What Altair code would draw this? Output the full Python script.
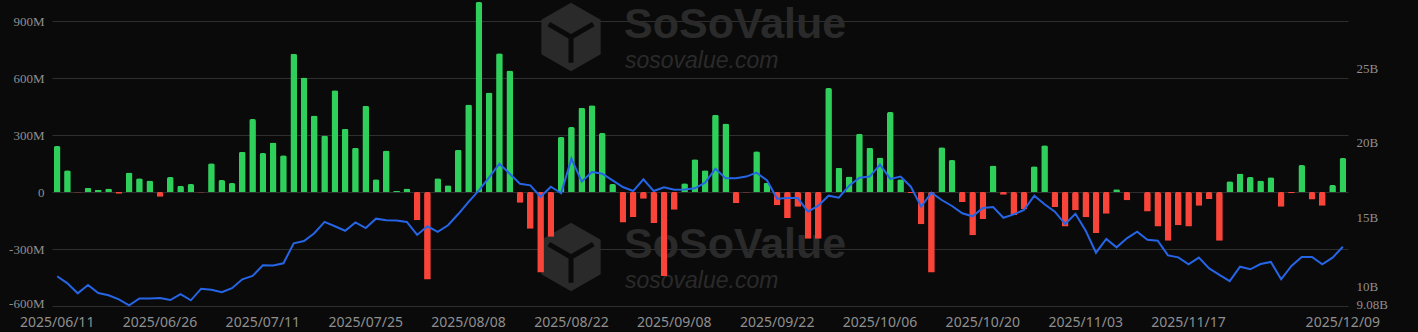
import altair as alt
import pandas as pd

# ---- data ----
dates = [
    "2025/06/11", "2025/06/12", "2025/06/13", "2025/06/16", "2025/06/17", "2025/06/18", "2025/06/20",
    "2025/06/23", "2025/06/24", "2025/06/25", "2025/06/26", "2025/06/27", "2025/06/30",
    "2025/07/01", "2025/07/02", "2025/07/03", "2025/07/07", "2025/07/08", "2025/07/09", "2025/07/10",
    "2025/07/11", "2025/07/14", "2025/07/15", "2025/07/16", "2025/07/17", "2025/07/18", "2025/07/21",
    "2025/07/22", "2025/07/23", "2025/07/24", "2025/07/25", "2025/07/28", "2025/07/29", "2025/07/30",
    "2025/07/31", "2025/08/01", "2025/08/04", "2025/08/05", "2025/08/06", "2025/08/07", "2025/08/08",
    "2025/08/11", "2025/08/12", "2025/08/13", "2025/08/14", "2025/08/15", "2025/08/18", "2025/08/19",
    "2025/08/20", "2025/08/21", "2025/08/22", "2025/08/25", "2025/08/26", "2025/08/27", "2025/08/28",
    "2025/08/29", "2025/09/02", "2025/09/03", "2025/09/04", "2025/09/05", "2025/09/08", "2025/09/09",
    "2025/09/10", "2025/09/11", "2025/09/12", "2025/09/15", "2025/09/16", "2025/09/17", "2025/09/18",
    "2025/09/19", "2025/09/22", "2025/09/23", "2025/09/24", "2025/09/25", "2025/09/26", "2025/09/29",
    "2025/09/30", "2025/10/01", "2025/10/02", "2025/10/03", "2025/10/06", "2025/10/07", "2025/10/08",
    "2025/10/09", "2025/10/10", "2025/10/13", "2025/10/14", "2025/10/15", "2025/10/16", "2025/10/17",
    "2025/10/20", "2025/10/21", "2025/10/22", "2025/10/23", "2025/10/24", "2025/10/27", "2025/10/28",
    "2025/10/29", "2025/10/30", "2025/10/31", "2025/11/03", "2025/11/04", "2025/11/05", "2025/11/06",
    "2025/11/07", "2025/11/10", "2025/11/11", "2025/11/12", "2025/11/13", "2025/11/14", "2025/11/17",
    "2025/11/18", "2025/11/19", "2025/11/20", "2025/11/21", "2025/11/24", "2025/11/25", "2025/11/26",
    "2025/11/28", "2025/12/01", "2025/12/02", "2025/12/03", "2025/12/04", "2025/12/05", "2025/12/08",
    "2025/12/09",
]

# daily net inflow, millions USD
net_inflow = [
    242, 114, -3, 23, 12, 19, -9, 102, 72, 61, -25, 79, 33, 42, -3, 151,
    63, 47, 212, 384, 205, 260, 193, 728, 602, 403, 298, 535, 333, 233, 454, 67,
    219, 7, 18, -149, -460, 72, 35, 223, 461, 1000, 524, 730, 640, -56, -193, -424,
    -235, 289, 342, 444, 456, 310, 42, -160, -132, -35, -163, -442, -93, 46, 172,
    114, 407, 361, -58, -3, 214, 49, -70, -137, -77, -246, -246, 547, 128, 82, 307,
    233, 182, 421, 67, -5, -170, -424, 235, 168, -53, -228, -142, 140, -14, -121, -89,
    135, 246, -79, -181, -96, -133, -216, -114, 14, -44, 0, -103, -181, -256, -175, -181,
    -72, -37, -256, 56, 98, 79, 61, 77, -77, -7, 142, -39, -72, 37, 179,
]

# total net assets, billions USD
total_assets = [
    11.07, 10.60, 9.93, 10.49, 9.95, 9.80, 9.53, 9.12, 9.59, 9.59, 9.61, 9.48, 9.88, 9.46, 10.24, 10.17,
    10.00, 10.27, 10.87, 11.09, 11.81, 11.79, 11.94, 13.28, 13.43, 13.95, 14.71, 14.42, 14.12, 14.68, 14.30, 14.93,
    14.82, 14.80, 14.71, 13.84, 14.42, 14.04, 14.49, 15.24, 16.05, 16.83, 17.70, 18.61, 17.94, 17.27, 17.16, 16.40,
    17.07, 16.63, 18.95, 17.41, 18.06, 17.94, 17.50, 17.05, 16.78, 17.57, 16.78, 17.03, 16.87, 16.89, 16.96,
    17.34, 18.28, 17.63, 17.63, 17.75, 18.01, 17.50, 16.27, 16.31, 16.31, 15.40, 15.80, 16.47, 16.33, 17.14, 17.67,
    17.75, 18.55, 17.59, 17.75, 17.07, 15.73, 16.67, 16.18, 15.78, 15.29, 15.09, 15.64, 15.71, 14.99, 15.22, 15.51,
    16.47, 15.89, 15.40, 14.57, 15.26, 14.12, 12.65, 13.57, 13.01, 13.61, 14.06, 13.52, 13.45, 12.47, 12.34, 11.87,
    12.32, 11.60, 11.16, 10.75, 11.71, 11.54, 11.89, 12.03, 10.87, 11.76, 12.36, 12.36, 11.87, 12.32, 13.05,
]

x_label_dates = [
    "2025/06/11", "2025/06/26", "2025/07/11", "2025/07/25", "2025/08/08", "2025/08/22", "2025/09/08",
    "2025/09/22", "2025/10/06", "2025/10/20", "2025/11/03", "2025/11/17", "2025/12/09",
]
left_ticks = [-600, -300, 0, 300, 600, 900]
right_ticks = [9.08, 10, 15, 20, 25]
right_domain = [9.08, 28.17]

watermark_big = ["SoSoValue", "SoSoValue"]
watermark_small = ["sosovalue.com", "sosovalue.com"]

df = pd.DataFrame({"date": dates, "flow": net_inflow, "assets": total_assets})

BG = "#0a0a0a"
GREEN = "#2fcf5b"
RED = "#f9443a"
BLUE = "#2565e6"
GRID = "#2f2f2f"
LABEL = "#8f8f8f"
WM = "#2a2a2a"

x_axis = alt.Axis(
    title=None, values=x_label_dates, labelAngle=0, labelOverlap=False,
    domain=False, ticks=False, grid=False, labelColor=LABEL, labelFont="Noto Sans",
    labelFontSize=14, labelPadding=9,
)
x_scale = alt.Scale(paddingInner=0.35, paddingOuter=0.175)

base = alt.Chart(df)

# watermark decorations
hexagon = "M0,-1L0.866,-0.5L0.866,0.5L0,1L-0.866,0.5L-0.866,-0.5Z"
cube_lines = "M0,0L0,0.75M0,0L-0.65,-0.375M0,0L0.65,-0.375"
wm_df = pd.DataFrame({"big": watermark_big, "small": watermark_small, "row": [0, 1]})
wm_base = alt.Chart(wm_df)
wm_layers = []
for row, yoff in [(0, 0), (1, 220)]:
    sub = wm_base.transform_filter(alt.datum.row == row)
    wm_layers.append(
        sub.mark_point(shape=hexagon, filled=True, color=WM, opacity=1, size=4700).encode(
            x=alt.value(519), y=alt.value(16 + yoff)
        )
    )
    wm_layers.append(
        sub.mark_point(shape=cube_lines, filled=False, color=BG, strokeWidth=5, opacity=1, size=4700).encode(
            x=alt.value(519), y=alt.value(16 + yoff)
        )
    )
    wm_layers.append(
        sub.mark_text(align="left", baseline="alphabetic", font="Liberation Sans", fontWeight="bold",
                      fontSize=43, color=WM).encode(
            text="big:N", x=alt.value(572), y=alt.value(17 + yoff)
        )
    )
    wm_layers.append(
        sub.mark_text(align="left", baseline="alphabetic", font="Liberation Sans", fontStyle="italic",
                      fontSize=23, color=WM).encode(
            text="small:N", x=alt.value(573), y=alt.value(47 + yoff)
        )
    )

bars = base.mark_bar(cornerRadiusEnd=2, clip=False).encode(
    x=alt.X("date:O", sort=None, scale=x_scale, axis=x_axis),
    y=alt.Y(
        "flow:Q",
        scale=alt.Scale(domain=[-600, 900], nice=False, zero=True),
        axis=alt.Axis(
            title=None, values=left_ticks, orient="left", grid=True, gridColor=GRID, gridWidth=1,
            domain=False, ticks=False, labelColor=LABEL, labelFont="Liberation Serif", labelFontSize=13,
            labelPadding=8,
            labelOffset={"condition": {"test": "datum.value == -600", "value": -3}, "value": 0},
            labelExpr="datum.value == 0 ? '0' : datum.value + 'M'",
        ),
    ),
    color=alt.condition(alt.datum.flow >= 0, alt.value(GREEN), alt.value(RED)),
)

line = base.mark_line(color=BLUE, strokeWidth=2).encode(
    x=alt.X("date:O", sort=None, scale=x_scale, axis=x_axis, bandPosition=0.5),
    y=alt.Y(
        "assets:Q",
        scale=alt.Scale(domain=right_domain, nice=False, zero=False),
        axis=alt.Axis(
            title=None, values=right_ticks, orient="right", grid=False, domain=False, ticks=False,
            labelColor=LABEL, labelFont="Liberation Serif", labelFontSize=13, labelPadding=8,
            labelOffset={
                "condition": [
                    {"test": "datum.value < 9.5", "value": -2},
                    {"test": "datum.value == 10", "value": -6},
                ],
                "value": 0,
            },
            labelOverlap=False, labelExpr="datum.value + 'B'",
        ),
    ),
)

wm = alt.layer(*wm_layers)

chart = (
    alt.layer(wm, bars, line)
    .resolve_scale(y="independent")
    .properties(
        width=1296,
        height=285,
        background=BG,
        padding={"left": 52, "top": 21, "right": 70, "bottom": 26},
        autosize=alt.AutoSizeParams(type="none"),
    )
    .configure_view(stroke=None)
)

chart.save("out.html", embed_options={"renderer": "svg", "actions": False})
